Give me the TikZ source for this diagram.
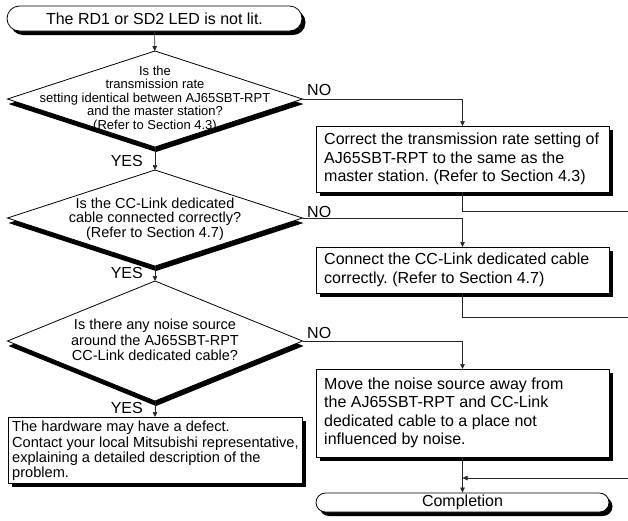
\documentclass[tikz,border=0pt]{standalone}
\usepackage{fontspec}
\setmainfont{Liberation Sans}
\usetikzlibrary{shapes.geometric,shapes.misc,shadows,arrows.meta}
\frenchspacing
\tikzset{
  boxsh/.style={drop shadow={shadow xshift=3.5pt,shadow yshift=-4pt,opacity=1,fill=black}},
  diash/.style={drop shadow={shadow xshift=1pt,shadow yshift=-5pt,opacity=1,fill=black}},
  actbox/.style={draw,line width=0.8pt,fill=white,boxsh,rectangle,inner sep=0pt,outer sep=0pt,
    minimum width=293pt},
  acttext/.style={anchor=west,inner sep=0pt,align=left,font=\fontsize{16}{18.5}\selectfont},
  hwtext/.style={anchor=west,inner sep=0pt,align=left,font=\fontsize{14.6}{15.3}\selectfont},
  dia/.style={draw,line width=0.8pt,fill=white,diash,diamond,inner sep=0pt,outer sep=0pt,
    minimum width=295pt,minimum height=96pt},
  term/.style={draw,line width=0.8pt,fill=white,boxsh,rounded rectangle,inner sep=0pt,
    minimum width=295pt,minimum height=25pt,font=\fontsize{16}{18}\selectfont},
  lbl/.style={inner sep=0pt,font=\fontsize{16}{18}\selectfont},
  conn/.style={line width=0.7pt,draw=black!85},
  arr/.style={conn,-{Triangle[length=5pt,width=4.5pt]}},
}
\begin{document}
\begin{tikzpicture}[x=1pt,y=-1pt]
\useasboundingbox (0,0) rectangle (628,520);
% start
\node[term] (start) at (154.5,18.5) {The RD1 or SD2 LED is not lit.};
% decisions
\node[dia] (d1) at (155,99) {};
\node[align=center,inner sep=0pt,font=\fontsize{13}{13.5}\selectfont] (d1t) at (155,99)
  {Is the\\transmission rate\\setting identical between AJ65SBT-RPT\\and the master station?\\(Refer to Section 4.3)};
\node[dia] (d2) at (155,218) {};
\node[align=center,inner sep=0pt,font=\fontsize{14.5}{14.5}\selectfont] (d2t) at (155,219)
  {Is the CC-Link dedicated\\cable connected correctly?\\(Refer to Section 4.7)};
\node[dia,minimum height=120pt] (d3) at (155,341) {};
\node[align=center,inner sep=0pt,font=\fontsize{14.5}{15.5}\selectfont] (d3t) at (155,340)
  {Is there any noise source\\around the AJ65SBT-RPT\\CC-Link dedicated cable?};
% hardware
\node[actbox,minimum width=294pt,minimum height=66pt] (hw) at (155,450) {};
\node[hwtext] (hwt) at ([xshift=4pt,yshift=-1pt]hw.west)
  {The hardware may have a defect.\\Contact your local Mitsubishi representative,\\explaining a detailed description of the\\problem.};
% action boxes
\node[actbox,minimum height=66pt] (b1) at (462.5,159) {};
\node[acttext] (b1t) at ([xshift=8pt]b1.west)
  {Correct the transmission rate setting of\\AJ65SBT-RPT to the same as the\\master station. (Refer to Section 4.3)};
\node[actbox,minimum height=46pt] (b2) at (462.5,270) {};
\node[acttext] (b2t) at ([xshift=8pt]b2.west)
  {Connect the CC-Link dedicated cable\\correctly. (Refer to Section 4.7)};
\node[actbox,minimum height=88pt] (b3) at (462.5,413) {};
\node[acttext] (b3t) at ([xshift=8pt]b3.west)
  {Move the noise source away from\\the AJ65SBT-RPT and CC-Link\\dedicated cable to a place not\\influenced by noise.};
\node[term,minimum height=19pt,minimum width=293pt] (comp) at (462.5,502.5) {Completion};
% labels
\node[lbl,anchor=base east] (y1) at (143,166) {YES};
\node[lbl,anchor=base east] (y2) at (143,278) {YES};
\node[lbl,anchor=base east] (y3) at (143,413) {YES};
\node[lbl,anchor=base west] (n1) at (307,95) {NO};
\node[lbl,anchor=base west] (n2) at (307,217) {NO};
\node[lbl,anchor=base west] (n3) at (307,338) {NO};
% edge coordinates
\coordinate (e1) at (628,211);
\coordinate (e2) at (628,317);
\coordinate (e3) at (628,478);
\coordinate (m3) at (462.5,478);
% connectors
\draw[arr] (start) -- (d1);
\draw[arr] (d1) -- (d2);
\draw[arr] (d2) -- (d3);
\draw[arr] (d3) -- (hw);
\draw[arr] (d1.east) -| (b1.north);
\draw[arr] (d2.east) -| (b2.north);
\draw[arr] (d3.east) -| (b3.north);
\draw[conn] (b1.south) |- (e1);
\draw[conn] (b2.south) |- (e2);
\draw[arr] (b3.south) -- (comp.north);
\draw[arr] (e3) -- (m3);
\end{tikzpicture}
\end{document}
